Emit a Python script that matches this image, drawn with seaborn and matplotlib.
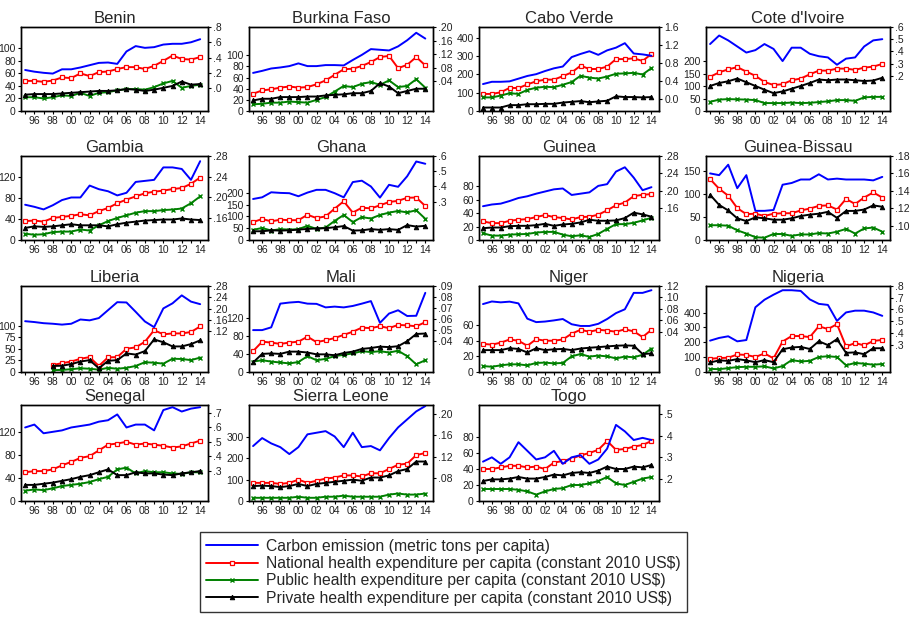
import numpy as np
import matplotlib
matplotlib.use("Agg")
import matplotlib.pyplot as plt
import seaborn as sns

years = list(range(1995, 2015))
nan = np.nan

countries = ["Benin", "Burkina Faso", "Cabo Verde", "Cote d'Ivoire",
             "Gambia", "Ghana", "Guinea", "Guinea-Bissau",
             "Liberia", "Mali", "Niger", "Nigeria",
             "Senegal", "Sierra Leone", "Togo"]

# Carbon emission (metric tons per capita), right axis
carbon = {
    "Benin": [.237, .215, .20, .19, .246, .246, .27, .30, .33, .335, .317, .48, .55, .527, .536, .57, .58, .58, .60, .64],
    "Burkina Faso": [.065, .071, .078, .081, .085, .093, .085, .085, .088, .088, .087, .103, .118, .135, .133, .131, .143, .161, .183, .166],
    "Cabo Verde": [.33, .38, .38, .39, .45, .51, .55, .62, .68, .72, .93, 1.0, 1.06, .98, 1.08, 1.14, 1.24, 1.01, .99, .96],
    "Cote d'Ivoire": [.46, .53, .49, .44, .39, .41, .46, .42, .32, .43, .43, .38, .36, .35, .29, .34, .35, .44, .49, .50],
    "Gambia": [.186, .182, .177, .185, .195, .20, .20, .223, .216, .212, .204, .209, .230, .232, .234, .258, .258, .255, .234, .27],
    "Ghana": [.318, .329, .362, .358, .356, .336, .36, .378, .378, .356, .329, .429, .438, .40, .327, .411, .398, .467, .564, .549],
    "Guinea": [.164, .168, .17, .176, .183, .187, .193, .198, .203, .205, .19, .193, .196, .211, .215, .244, .254, .23, .201, .208],
    "Guinea-Bissau": [.160, .158, .170, .143, .158, .117, .117, .118, .147, .149, .153, .153, .159, .153, .154, .153, .153, .153, .152, .156],
    "Liberia": [.156, .153, .149, .147, .144, .147, .162, .159, .167, .195, .223, .222, .189, .155, .135, .201, .219, .247, .225, .216],
    "Mali": [.05, .05, .0525, .074, .075, .0756, .074, .0738, .0706, .0713, .0706, .0719, .074, .0763, .0566, .065, .068, .0628, .063, .0838],
    "Niger": [.0885, .093, .0915, .0927, .0897, .063, .057, .058, .06, .0624, .0533, .0503, .0503, .054, .0624, .0727, .0794, .108, .108, .1127],
    "Nigeria": [.335, .358, .372, .329, .34, .619, .683, .726, .764, .764, .758, .686, .648, .639, .503, .575, .59, .59, .575, .546],
    "Senegal": [.60, .62, .56, .57, .58, .60, .61, .62, .64, .65, .69, .60, .62, .62, .58, .72, .74, .71, .73, .74],
    "Sierra Leone": [.14, .155, .145, .138, .125, .138, .162, .165, .168, .158, .138, .165, .138, .14, .132, .155, .175, .19, .205, .215],
    "Togo": [.28, .30, .27, .30, .37, .33, .29, .30, .33, .27, .30, .31, .27, .29, .34, .45, .42, .38, .39, .38],
}

# National health expenditure per capita (constant 2010 US$)
national = {
    "Benin": [48, 48, 46.5, 48.6, 53.5, 52.5, 60, 55.7, 62, 63, 67, 70, 70, 67, 72, 80, 88.5, 83, 82, 86],
    "Burkina Faso": [31, 37, 39, 42, 44, 42, 43, 48, 55, 65, 75, 76, 81, 88, 97, 99, 77, 83, 97, 82],
    "Cabo Verde": [93, 93, 102, 126, 125, 145, 162, 171, 171, 190, 210, 247, 229, 229, 242, 283, 283, 287, 273, 311],
    "Cote d'Ivoire": [138, 156, 168, 177, 159, 142, 117, 105, 108, 124, 131, 148, 163, 163, 171, 171, 166, 175, 179, 190],
    "Gambia": [36, 37, 35, 42, 44, 46, 49, 47, 55, 61, 70, 77, 83, 89, 92, 94, 97, 99, 107, 119],
    "Ghana": [76, 89, 79, 86, 84, 84, 107, 93, 100, 133, 164, 116, 137, 134, 147, 161, 166, 179, 180, 144],
    "Guinea": [27.5, 25, 25, 28.5, 30, 31, 34, 37, 34, 32.5, 30.5, 34, 34.5, 37.5, 44, 51.5, 55.5, 65, 67, 68],
    "Guinea-Bissau": [132, 111, 96, 69, 56, 57, 52, 57, 58, 58, 64, 68, 74, 75, 66, 89, 78, 92, 103, 92],
    "Liberia": [nan, nan, nan, 15, 19, 22.5, 28.5, 32, 13, 31.5, 32, 50, 53, 65, 90, 81, 83, 83, 86, 98],
    "Mali": [46, 67, 65, 62, 65, 67, 78, 66, 70, 75, 82, 89, 98, 97, 101, 97, 104, 103, 101, 110],
    "Niger": [36, 35, 37.5, 41.6, 40, 33.5, 42, 40, 40, 41.6, 49, 54, 51.5, 54, 53, 51.5, 54.6, 52, 44.7, 54],
    "Nigeria": [89, 94, 96, 118, 115, 101, 125, 92, 205, 242, 242, 235, 308, 289, 322, 172, 195, 179, 209, 216],
    "Senegal": [50, 52, 52, 55, 62, 68, 75, 78, 88, 98, 100, 103, 98, 100, 98, 96, 93, 95, 100, 105],
    "Sierra Leone": [85, 85, 85, 80, 85, 100, 85, 95, 105, 110, 120, 120, 115, 130, 130, 150, 170, 175, 215, 225],
    "Togo": [40, 40, 42, 44, 44, 42, 43, 40, 48, 50, 53, 57, 60, 64, 75, 64, 65, 68, 70, 75],
}

# Public health expenditure per capita (constant 2010 US$)
public = {
    "Benin": [22, 22, 20, 22, 25, 24, 29, 24, 29, 30, 33, 35, 35, 34, 38, 44, 48, 37, 40, 42],
    "Burkina Faso": [12, 13, 15, 15, 17, 16, 15, 20, 25, 35, 45, 43, 49, 52, 47, 55, 43, 45, 57, 42],
    "Cabo Verde": [74, 74, 84, 97, 93, 115, 127, 132, 130, 143, 158, 192, 182, 177, 188, 203, 205, 208, 199, 234],
    "Cote d'Ivoire": [37, 46, 48, 47, 46, 44, 32, 32, 32, 34, 32, 33, 36, 39, 44, 44, 41, 55, 57, 57],
    "Gambia": [12, 10, 11, 15, 16, 16, 20, 18, 28, 36, 42, 47, 52, 55, 55, 57, 58, 60, 70, 83],
    "Ghana": [43, 51, 40, 46, 44, 46, 60, 47, 53, 81, 106, 76, 97, 91, 106, 116, 123, 117, 126, 90],
    "Guinea": [10, 6.5, 6.5, 8, 8.5, 9, 11, 12, 12, 8, 5.5, 7, 4.5, 9, 16.5, 23.5, 23.5, 25.5, 29, 33],
    "Guinea-Bissau": [32, 32, 31, 21, 14, 6, 5, 13, 13, 9, 12, 12, 15, 14, 18, 24, 14, 25, 27, 18],
    "Liberia": [nan, nan, nan, 4, 4.5, 6, 8, 7, 5, 9, 7, 9, 13, 21, 20, 18, 28.5, 28, 25.5, 31],
    "Mali": [23, 26, 23, 21, 19, 22, 35, 26, 29, 35, 38, 41, 46, 44, 46, 43, 47, 35, 17, 26],
    "Niger": [7.6, 6.7, 8.5, 9.8, 9.8, 8.5, 11.6, 12, 11, 11.6, 20, 23, 19.7, 21, 20, 17.4, 19.7, 18.8, 22, 30],
    "Nigeria": [21, 19, 26, 33, 35, 35, 38, 24, 40, 80, 71, 75, 101, 106, 101, 45, 61, 56, 49, 54],
    "Senegal": [18, 20, 19, 22, 26, 28, 30, 33, 38, 42, 55, 58, 48, 52, 50, 50, 48, 47, 50, 50],
    "Sierra Leone": [15, 15, 15, 15, 15, 20, 15, 15, 20, 20, 25, 20, 20, 20, 20, 30, 35, 30, 30, 35],
    "Togo": [15, 15, 15, 15, 14, 12, 8, 12, 15, 16, 20, 20, 22, 25, 30, 22, 20, 24, 28, 30],
}

# Private health expenditure per capita (constant 2010 US$)
private = {
    "Benin": [26, 27, 27, 27, 28, 29, 30, 31, 32, 32, 33, 35, 34, 32, 34, 37, 40, 47, 42, 43],
    "Burkina Faso": [19, 22, 22, 25, 25, 25, 26, 26, 28, 29, 30, 32, 32, 36, 50, 44, 32, 36, 40, 40],
    "Cabo Verde": [19, 19, 19, 32, 32, 37, 37, 39, 39, 46, 50, 54, 48, 52, 56, 80, 76, 76, 74, 76],
    "Cote d'Ivoire": [101, 113, 120, 131, 116, 101, 86, 72, 79, 90, 101, 113, 127, 124, 127, 127, 124, 121, 123, 134],
    "Gambia": [23, 26, 25, 26, 28, 30, 28, 28, 28, 26, 30, 33, 35, 37, 38, 39, 39, 41, 39, 38],
    "Ghana": [37, 37, 41, 40, 41, 44, 47, 49, 50, 54, 59, 40, 41, 46, 43, 46, 43, 63, 57, 60],
    "Guinea": [17.5, 18.5, 18.5, 20.5, 21, 21, 22, 24, 21, 23, 24, 26, 30, 28.5, 28.5, 29, 32.5, 40.5, 38, 34.5],
    "Guinea-Bissau": [98, 76, 64, 47, 41, 49, 47, 44, 44, 47, 52, 55, 57, 61, 48, 63, 63, 66, 75, 72],
    "Liberia": [nan, nan, nan, 13, 13.5, 17, 22.5, 25.5, 8, 24, 25.5, 40, 37.5, 45, 70, 64, 55, 55, 60, 68],
    "Mali": [21, 40, 41, 40, 45, 45, 43, 39, 39, 37, 42, 45, 51, 53, 56, 55, 57, 68, 84, 85],
    "Niger": [28, 28, 28, 30.4, 29.5, 25, 30.4, 28, 29, 29.5, 28, 30, 31, 31.8, 32.7, 33.6, 34, 33.6, 23, 23.7],
    "Nigeria": [64, 78, 75, 87, 78, 66, 80, 66, 153, 165, 169, 155, 207, 181, 221, 129, 132, 120, 160, 160],
    "Senegal": [28, 28, 30, 32, 35, 38, 42, 45, 50, 55, 45, 45, 50, 48, 48, 46, 45, 48, 50, 52],
    "Sierra Leone": [70, 72, 70, 65, 70, 80, 70, 80, 85, 90, 95, 100, 95, 110, 110, 120, 140, 150, 185, 185],
    "Togo": [25, 27, 27, 28, 30, 28, 28, 30, 33, 32, 35, 36, 35, 38, 43, 40, 40, 43, 42, 45],
}

# axis scales: left top, left tick step / last tick, right limits and tick labels
left_top = {"Benin": 134, "Burkina Faso": 151, "Cabo Verde": 458, "Cote d'Ivoire": 339,
            "Gambia": 160, "Ghana": 356, "Guinea": 124.5, "Guinea-Bissau": 182,
            "Liberia": 185, "Mali": 190, "Niger": 110, "Nigeria": 579,
            "Senegal": 167, "Sierra Leone": 450, "Togo": 120}
left_ticks = {"Benin": (20, 100), "Burkina Faso": (20, 100), "Cabo Verde": (100, 400),
              "Cote d'Ivoire": (50, 200), "Gambia": (40, 120), "Ghana": (50, 200),
              "Guinea": (20, 80), "Guinea-Bissau": (50, 150), "Liberia": (25, 100),
              "Mali": (40, 120), "Niger": (20, 60), "Nigeria": (100, 400),
              "Senegal": (40, 120), "Sierra Leone": (100, 300), "Togo": (20, 80)}
right_lim = {"Benin": (-0.3, 0.8), "Burkina Faso": (-0.047, 0.20), "Cabo Verde": (-0.27, 1.6),
             "Cote d'Ivoire": (-0.09, 0.6), "Gambia": (0.118, 0.28), "Ghana": (0.049, 0.6),
             "Guinea": (0.086, 0.28), "Guinea-Bissau": (0.0835, 0.18), "Liberia": (-0.023, 0.28),
             "Mali": (0.012, 0.09), "Niger": (-0.03, 0.12), "Nigeria": (0.068, 0.8),
             "Senegal": (0.093, 0.755), "Sierra Leone": (0.037, 0.217), "Togo": (0.098, 0.542)}
right_ticks = {"Benin": [".0", ".2", ".4", ".6", ".8"],
               "Burkina Faso": [".04", ".08", ".12", ".16", ".20"],
               "Cabo Verde": ["0.0", "0.4", "0.8", "1.2", "1.6"],
               "Cote d'Ivoire": [".2", ".3", ".4", ".5", ".6"],
               "Gambia": [".16", ".20", ".24", ".28"],
               "Ghana": [".3", ".4", ".5", ".6"],
               "Guinea": [".16", ".20", ".24", ".28"],
               "Guinea-Bissau": [".10", ".12", ".14", ".16", ".18"],
               "Liberia": [".12", ".16", ".20", ".24", ".28"],
               "Mali": [".04", ".05", ".06", ".07", ".08", ".09"],
               "Niger": [".04", ".06", ".08", ".10", ".12"],
               "Nigeria": [".3", ".4", ".5", ".6", ".7", ".8"],
               "Senegal": [".3", ".4", ".5", ".6", ".7"],
               "Sierra Leone": [".08", ".12", ".16", ".20"],
               "Togo": [".2", ".3", ".4", ".5"]}

sns.set_style("ticks")
plt.rcParams['font.family'] = ['Liberation Sans', 'DejaVu Sans']

fig = plt.figure(figsize=(9.1, 6.2), dpi=100)

col_left = [21, 249, 479, 706]
col_width = [187, 184, 180, 184]
row_top = [27, 156, 286, 405]
row_height = [84, 84, 86, 96]

for i, name in enumerate(countries):
    r, c = divmod(i, 4)
    x0, y0 = col_left[c], row_top[r]
    pw, ph = col_width[c], row_height[r]
    ax = fig.add_axes([x0 / 910, 1 - (y0 + ph) / 620, pw / 910, ph / 620])
    ax2 = ax.twinx()

    sns.lineplot(x=years, y=national[name], ax=ax, color="red", lw=1.4,
                 marker="s", markersize=3.2, markerfacecolor="white",
                 markeredgecolor="red", markeredgewidth=0.9,
                 label="National health expenditure per capita (constant 2010 US$)")
    sns.lineplot(x=years, y=public[name], ax=ax, color="green", lw=1.4,
                 marker="x", markersize=3.2, markeredgecolor="green", markeredgewidth=1,
                 label="Public health expenditure per capita (constant 2010 US$)")
    sns.lineplot(x=years, y=private[name], ax=ax, color="black", lw=1.4,
                 marker="^", markersize=3.2, markerfacecolor="black",
                 markeredgecolor="black",
                 label="Private health expenditure per capita (constant 2010 US$)")
    sns.lineplot(x=years, y=carbon[name], ax=ax2, color="blue", lw=1.4,
                 label="Carbon emission (metric tons per capita)")

    step, last = left_ticks[name]
    lt = np.arange(0, last + step / 2, step)
    ax.set_ylim(0, left_top[name])
    ax.set_yticks(lt)
    ax.set_yticklabels([str(int(v)) for v in lt])

    lo, hi = right_lim[name]
    ax2.set_ylim(lo, hi)
    labs = right_ticks[name]
    ax2.set_yticks([float(s) for s in labs])
    ax2.set_yticklabels(labs)

    ax.set_xlim(1994.55, 2014.85)
    ax.set_xticks(years)
    ax.set_xticklabels([("%02d" % (y % 100)) if y % 2 == 0 else "" for y in years])

    for a in (ax, ax2):
        a.tick_params(labelsize=7.5, length=2.5, width=0.8, pad=1.2,
                      colors="black", labelcolor="#222222")
        for s in a.spines.values():
            s.set_visible(True)
            s.set_color("black")
            s.set_linewidth(1.0)
        a.set_xlabel("")
        a.set_ylabel("")
        if a.get_legend() is not None:
            a.get_legend().remove()

    ax.set_title(name, fontsize=12, pad=3)

    if i == 0:
        h1, l1 = ax.get_legend_handles_labels()
        h2, l2 = ax2.get_legend_handles_labels()
        handles = h2 + h1
        labels = l2 + l1

fig.legend(handles, labels, loc="center", bbox_to_anchor=(0.487, 0.077),
           fontsize=11.3, frameon=True, fancybox=False, edgecolor="black",
           handlelength=3.3, borderpad=0.4, labelspacing=0.15, handletextpad=0.5,
           borderaxespad=0)

fig.savefig("out.png", dpi=100)
